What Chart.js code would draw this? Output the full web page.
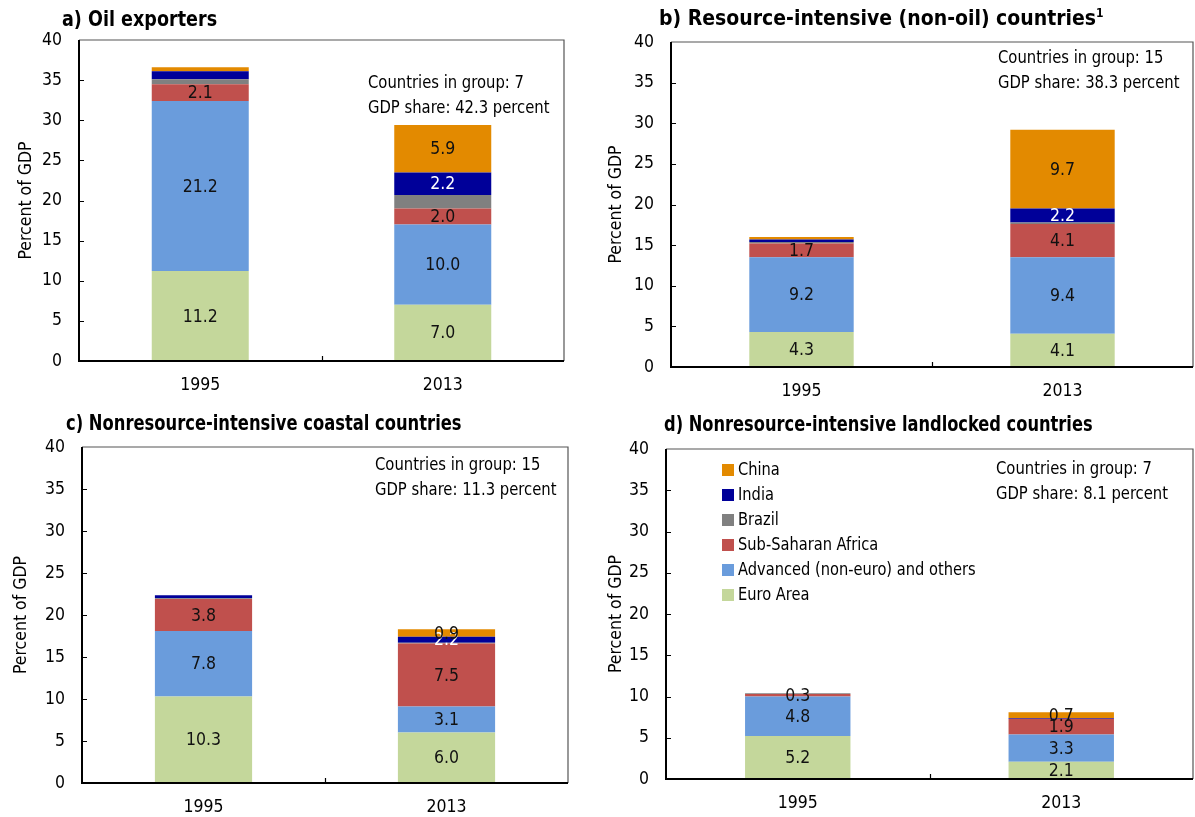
<!DOCTYPE html>
<html lang="en">
<head>
<meta charset="UTF-8">
<title>Exports by destination, percent of GDP</title>
<script src="https://cdn.jsdelivr.net/npm/chart.js@4.4.1/dist/chart.umd.min.js"></script>
<style>
    body {
        margin: 0;
        background: #ffffff;
        font-family: 'Liberation Sans Narrow', 'Arial Narrow', 'DejaVu Sans Condensed', sans-serif;
        color: #000;
    }
    #page {
        position: relative;
        width: 1195px;
        height: 817px;
        overflow: hidden;
    }
    canvas {
        position: absolute;
    }
    .title {
        position: absolute;
        font-weight: bold;
        font-size: 21px;
        white-space: nowrap;
        line-height: 24px;
        transform-origin: left center;
    }
    .title sup {
        font-size: 12px;
        vertical-align: 8px;
        line-height: 0;
    }
    .note {
        position: absolute;
        font-size: 17.5px;
        line-height: 24.5px;
        white-space: nowrap;
        transform: scaleX(0.94);
        transform-origin: left center;
    }
    .legend {
        position: absolute;
        font-size: 17.5px;
        line-height: 25px;
        white-space: nowrap;
    }
    .legend .sw {
        display: inline-block;
        width: 12px;
        height: 12px;
        margin-right: 4px;
        vertical-align: -1px;
    }
    .legend .name {
        display: inline-block;
        transform: scaleX(0.93);
        transform-origin: left center;
    }
</style>
</head>
<body>
<div id="page">
    <canvas id="chartA"></canvas>
    <canvas id="chartB"></canvas>
    <canvas id="chartC"></canvas>
    <canvas id="chartD"></canvas>

    <div class="title" style="left:62px; top:7px; transform:scaleX(0.93);">a) Oil exporters</div>
    <div class="title" style="left:659px; top:6px;">b) Resource-intensive (non-oil) countries<sup>1</sup></div>
    <div class="title" style="left:66px; top:411px; transform:scaleX(0.865);">c) Nonresource-intensive coastal countries</div>
    <div class="title" style="left:664px; top:412px; transform:scaleX(0.86);">d) Nonresource-intensive landlocked countries</div>

    <div class="note" style="left:368px; top:70px;">Countries in group: 7<br>GDP share: 42.3 percent</div>
    <div class="note" style="left:998px; top:45px;">Countries in group: 15<br>GDP share: 38.3 percent</div>
    <div class="note" style="left:375px; top:452px;">Countries in group: 15<br>GDP share: 11.3 percent</div>
    <div class="note" style="left:996px; top:456px;">Countries in group: 7<br>GDP share: 8.1 percent</div>

    <div class="legend" id="legend" style="left:722px; top:457px;"></div>
</div>

<script>
    // categories and series (bottom of the stack first)
    const years = ['1995', '2013'];
    const seriesNames = ['Euro Area', 'Advanced (non-euro) and others', 'Sub-Saharan Africa', 'Brazil', 'India', 'China'];
    const seriesColors = ['#c4d79b', '#6a9cdc', '#c0504d', '#808080', '#000099', '#e38a00'];
    const labelColors = ['#111', '#111', '#111', '#111', '#fff', '#111'];

    // a) Oil exporters, percent of GDP per series
    const oil1995 = [11.2, 21.2, 2.1, 0.6, 1.0, 0.5];
    const oil2013 = [7.0, 10.0, 2.0, 1.7, 2.8, 5.9];
    const oilText1995 = ['11.2', '21.2', '2.1', '', '', ''];
    const oilText2013 = ['7.0', '10.0', '2.0', '', '2.2', '5.9'];

    // b) Resource-intensive (non-oil)
    const res1995 = [4.3, 9.2, 1.7, 0.2, 0.3, 0.3];
    const res2013 = [4.1, 9.4, 4.1, 0.2, 1.7, 9.7];
    const resText1995 = ['4.3', '9.2', '1.7', '', '', ''];
    const resText2013 = ['4.1', '9.4', '4.1', '', '2.2', '9.7'];

    // c) Nonresource-intensive coastal
    const coast1995 = [10.3, 7.8, 3.8, 0.1, 0.35, 0.0];
    const coast2013 = [6.0, 3.1, 7.5, 0.1, 0.7, 0.9];
    const coastText1995 = ['10.3', '7.8', '3.8', '', '', ''];
    const coastText2013 = ['6.0', '3.1', '7.5', '', '2.2', '0.9'];

    // d) Nonresource-intensive landlocked
    const land1995 = [5.2, 4.8, 0.3, 0.1, 0.0, 0.0];
    const land2013 = [2.1, 3.3, 1.9, 0.0, 0.1, 0.7];
    const landText1995 = ['5.2', '4.8', '0.3', '', '', ''];
    const landText2013 = ['2.1', '3.3', '1.9', '', '', '0.7'];

    const yTicks = [0, 5, 10, 15, 20, 25, 30, 35, 40];

    const fontFamily = "'Liberation Sans Narrow', 'Arial Narrow', 'DejaVu Sans Condensed', sans-serif";

    // value labels in the middle of each segment
    const segmentLabels = {
        id: 'segmentLabels',
        afterDatasetsDraw(chart) {
            const ctx = chart.ctx;
            ctx.save();
            ctx.font = '17.5px ' + fontFamily;
            ctx.textAlign = 'center';
            ctx.textBaseline = 'middle';
            chart.data.datasets.forEach((ds, i) => {
                chart.getDatasetMeta(i).data.forEach((bar, j) => {
                    const txt = ds.valueText[j];
                    if (!txt) return;
                    ctx.fillStyle = ds.textColor;
                    ctx.fillText(txt, bar.x, (bar.y + bar.base) / 2 + 1);
                });
            });
            ctx.restore();
        }
    };

    // box round the plot, black axes and small inward ticks
    const plotFrame = {
        id: 'plotFrame',
        afterDraw(chart) {
            const ctx = chart.ctx;
            const a = chart.chartArea;
            const ys = chart.scales.y;
            const xs = chart.scales.x;
            ctx.save();
            ctx.strokeStyle = '#555';
            ctx.lineWidth = 1.2;
            ctx.beginPath();
            ctx.moveTo(a.left, a.top);
            ctx.lineTo(a.right, a.top);
            ctx.lineTo(a.right, a.bottom);
            ctx.stroke();

            ctx.strokeStyle = '#000';
            ctx.lineWidth = 2;
            ctx.beginPath();
            ctx.moveTo(a.left, a.top);
            ctx.lineTo(a.left, a.bottom);
            ctx.lineTo(a.right, a.bottom);
            ctx.stroke();

            ctx.lineWidth = 1.2;
            ctx.beginPath();
            yTicks.slice(1, -1).forEach(v => {
                const py = Math.round(ys.getPixelForValue(v)) + 0.5;
                ctx.moveTo(a.left, py);
                ctx.lineTo(a.left + 5, py);
            });
            const mid = Math.round(xs.getPixelForValue(0.5)) + 0.5;
            ctx.moveTo(mid, a.bottom);
            ctx.lineTo(mid, a.bottom - 5);
            ctx.stroke();
            ctx.restore();
        }
    };

    function makePanel(id, box, vals1995, vals2013, text1995, text2013) {
        const canvas = document.getElementById(id);
        canvas.width = box.w;
        canvas.height = box.h;
        canvas.style.left = box.x + 'px';
        canvas.style.top = box.y + 'px';
        canvas.style.width = box.w + 'px';
        canvas.style.height = box.h + 'px';

        const datasets = seriesNames.map((name, i) => ({
            label: name,
            data: [vals1995[i], vals2013[i]],
            backgroundColor: seriesColors[i],
            borderWidth: 0,
            categoryPercentage: 1.0,
            barPercentage: 0.4,
            valueText: [text1995[i], text2013[i]],
            textColor: labelColors[i]
        }));

        return new Chart(canvas, {
            type: 'bar',
            data: { labels: years, datasets: datasets },
            plugins: [plotFrame, segmentLabels],
            options: {
                responsive: false,
                animation: false,
                layout: {
                    padding: { left: 0, top: box.top - box.y, right: box.x + box.w - box.right, bottom: 0 }
                },
                plugins: {
                    legend: { display: false },
                    tooltip: { enabled: false }
                },
                scales: {
                    x: {
                        stacked: true,
                        grid: { display: false, drawTicks: false },
                        border: { display: false },
                        ticks: { padding: 14, color: '#000', font: { family: fontFamily, size: 17.5 } },
                        afterFit: s => { s.height = box.y + box.h - box.bottom; }
                    },
                    y: {
                        stacked: true,
                        min: 0,
                        max: 40,
                        afterBuildTicks: s => { s.ticks = yTicks.map(v => ({ value: v })); },
                        grid: { display: false, drawTicks: false },
                        border: { display: false },
                        ticks: { padding: 17, color: '#000', font: { family: fontFamily, size: 17.5 } },
                        title: {
                            display: true,
                            text: 'Percent of GDP',
                            color: '#000',
                            font: { family: fontFamily, size: 17.5 },
                            padding: { top: box.titlePad, bottom: 0 }
                        },
                        afterFit: s => { s.width = box.left - box.x; }
                    }
                }
            }
        });
    }

    makePanel('chartA', { x: 0, y: 0, w: 597, h: 408, left: 79, top: 40, right: 564, bottom: 361, titlePad: 16 },
        oil1995, oil2013, oilText1995, oilText2013);
    makePanel('chartB', { x: 597, y: 0, w: 598, h: 408, left: 671, top: 42, right: 1193, bottom: 367, titlePad: 9 },
        res1995, res2013, resText1995, resText2013);
    makePanel('chartC', { x: 0, y: 408, w: 597, h: 409, left: 82, top: 447, right: 568, bottom: 783, titlePad: 11 },
        coast1995, coast2013, coastText1995, coastText2013);
    makePanel('chartD', { x: 597, y: 408, w: 598, h: 409, left: 666, top: 449, right: 1193, bottom: 779, titlePad: 9 },
        land1995, land2013, landText1995, landText2013);

    // legend for panel d, top of the stack first
    const legendBox = document.getElementById('legend');
    seriesNames.slice().reverse().forEach((name, k) => {
        const i = seriesNames.length - 1 - k;
        const row = document.createElement('div');
        const sw = document.createElement('span');
        sw.className = 'sw';
        sw.style.background = seriesColors[i];
        const txt = document.createElement('span');
        txt.className = 'name';
        txt.textContent = name;
        row.appendChild(sw);
        row.appendChild(txt);
        legendBox.appendChild(row);
    });
</script>
</body>
</html>
